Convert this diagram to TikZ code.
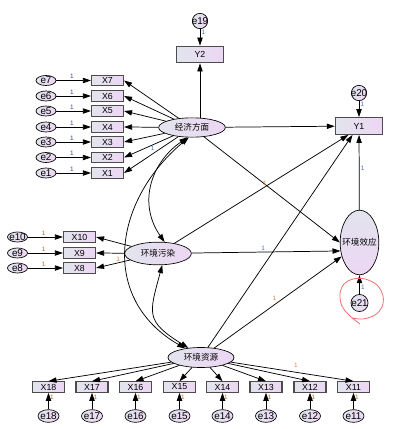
\documentclass[tikz,border=0pt]{standalone}
\usepackage{fontspec}
\setmainfont{Liberation Sans}
\newfontfamily\cjk{Noto Sans CJK SC}
\usetikzlibrary{arrows.meta,shapes.geometric}
\definecolor{boxL}{RGB}{226,228,238}
\definecolor{boxR}{RGB}{237,214,243}
\definecolor{lblue}{RGB}{70,110,190}
\definecolor{lorange}{RGB}{225,135,60}
\definecolor{redpen}{RGB}{240,110,110}
\newcommand{\nb}[1]{\makebox[0pt]{#1}}

\begin{document}
\begin{tikzpicture}[x=0.75pt, y=-0.75pt,
    obs/.style={draw=black!70, line width=0.85pt, left color=boxL, right color=boxR,
      minimum width=24pt, minimum height=7.8pt, inner sep=0pt, font=\fontsize{6.6}{7}\selectfont},
    ybox/.style={obs, minimum width=35.5pt, minimum height=12.5pt},
    lat/.style={ellipse, draw, line width=0.5pt, left color=boxL, right color=boxR,
      minimum width=50pt, minimum height=15pt, inner sep=0pt, font=\fontsize{6.4}{7}\cjk},
    err/.style={ellipse, draw, line width=0.5pt, left color=boxL, right color=boxR,
      minimum width=15pt, minimum height=7.5pt, inner sep=0pt, text height=4.6pt, text depth=0pt,
      font=\fontsize{7.4}{8}\selectfont},
    errc/.style={err, minimum width=11.5pt, minimum height=11.5pt},
    arr/.style={line width=0.55pt, -{Triangle[length=6pt,width=4pt]}},
    cov/.style={line width=0.55pt, {Triangle[length=6pt,width=4pt]}-{Triangle[length=6pt,width=4pt]}},
    one/.style={font=\fontsize{4.8}{5}\selectfont, text=lblue, inner sep=1pt},
  ]
  \useasboundingbox (0,0) rectangle (403,429);

  % latent variables
  \node[lat, minimum height=14.5pt] (econ) at (192,127.5) {经济方面};
  \node[lat, minimum height=17pt] (poll) at (158,253.5) {环境污染};
  \node[lat, minimum width=49.5pt] (res) at (201,357.5) {环境资源};
  \node[lat, minimum width=29pt, minimum height=48.5pt, top color=boxL, bottom color=boxR] (eff) at (359.5,242.5) {\nb{环境效应}};

  % outcomes
  \node[ybox] (y2) at (200,54.5) {Y2};
  \node[errc] (e19) at (200,21) {\nb{e19}};
  \node[ybox] (y1) at (359,126) {Y1};
  \node[errc] (e20) at (359,93) {\nb{e20}};
  \node[errc, minimum width=12.8pt, minimum height=12.8pt] (e21) at (359.5,303) {\nb{e21}};

  \draw[arr] (e19) -- node[one, right, pos=0.2]{1} (y2);
  \draw[arr] (econ.north -| y2.south) -- (y2.south);
  \draw[arr] (e20) -- node[one, right, pos=0.2]{1} (y1);
  \draw[arr] (e21) -- node[one, right, pos=0.35]{1} (eff);
  \draw[arr] (eff) -- node[one, right, pos=0.56]{1} (y1);

  % economy indicators
  \foreach \i/\y in {7/80.5,6/96,5/111,4/127,3/142,2/157.5,1/173} {
    \node[err] (e\i) at (46,\y) {\nb{e\i}};
    \node[obs] (x\i) at (107.5,\y) {X\i};
    \draw[arr] (e\i) -- node[one, above, pos=0.45, text=lblue!70!black]{1} (x\i);
    \draw[arr] (econ) -- (x\i.east);
  }
  \path (econ) -- node[one, below, pos=0.42]{1} (x2.east);

  % pollution indicators
  \foreach \i/\y in {10/237,9/253,8/268} {
    \node[err] (e\i) at (17.5,\y) {\nb{e\i}};
    \node[obs] (x\i) at (79.5,\y) {X\i};
    \draw[arr] (e\i) -- node[one, above, pos=0.45, text=lorange!80!black]{1} (x\i);
    \draw[arr] (poll) -- (x\i.east);
  }
  \path (poll) -- node[one, above, pos=0.35, text=lorange]{1} (x8.east);

  % resource indicators
  \foreach \i/\x in {18/48.5,17/92,16/135.5,15/179.5,14/222.5,13/266,12/310,11/353.5} {
    \node[obs] (x\i) at (\x,387) {X\i};
    \node[err, minimum width=15.8pt, minimum height=9.5pt] (e\i) at (\x,416) {\nb{e\i}};
    \draw[arr] (e\i) -- node[one, right, pos=0.73, text=lorange!80!black]{1} (x\i);
    \draw[arr] (res) -- (x\i.north);
  }
  \path (res) -- node[one, above=2pt, pos=0.53, text=lorange]{1} (x11.north);

  % structural paths
  \draw[arr] (econ) -- (y1);
  \draw[arr] (econ) -- (eff.west);
  \draw[arr] (poll) -- node[one, above, pos=0.52, text=lorange]{1} (y1.220);
  \draw[arr] (poll) -- node[one, above, pos=0.48]{1} (eff.204);
  \draw[arr] (res) -- (y1.234);
  \draw[arr] (res) -- node[one, above left, pos=0.5, text=lorange]{1} (eff.218);

  % covariances
  \draw[cov] (econ.245) to[out=215, in=125, looseness=1.1] (poll.60);
  \draw[cov] (econ.252) to[out=220, in=150, looseness=1.2] (res.150);
  \draw[cov] (poll.290) to[out=255, in=148, looseness=1.5] (res.143);

  % hand-drawn mark
  \draw[redpen, line width=0.6pt] plot[smooth, tension=0.6] coordinates {(360,324) (350,316) (342,306) (340,294) (344,284) (353,279) (365,279) (377,285) (383,296) (382,307) (375,315) (363,319) (352,318)};
\end{tikzpicture}
\end{document}
